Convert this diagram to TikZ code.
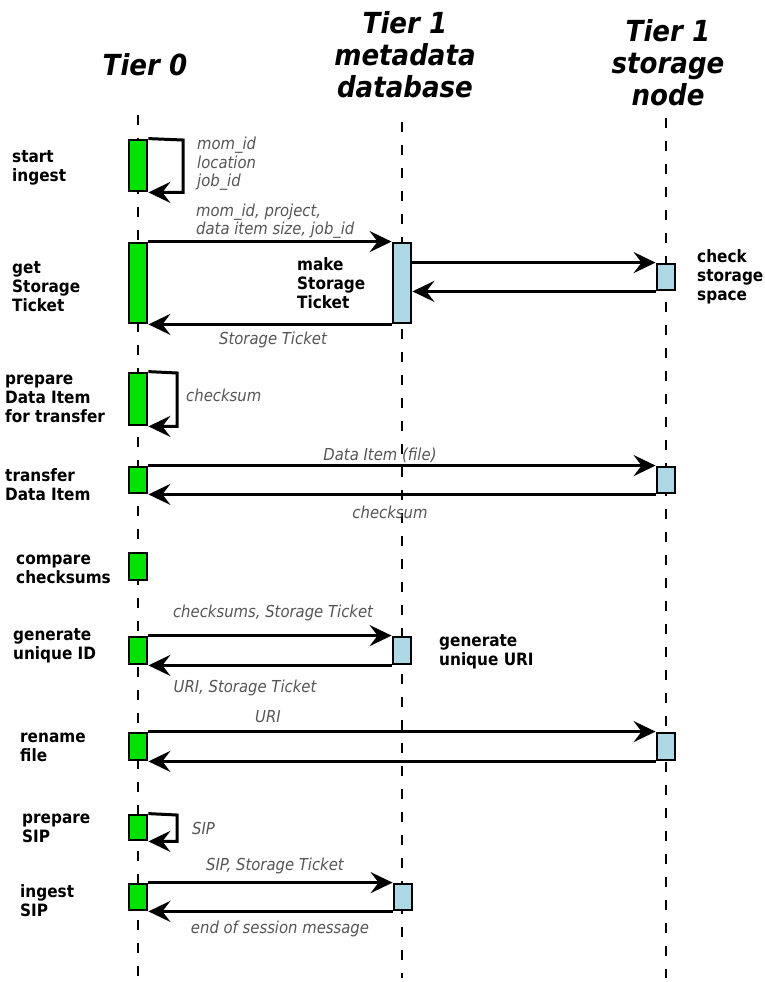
\documentclass[tikz,border=0pt]{standalone}
\usepackage{fontspec}
\setmainfont{DejaVu Sans Condensed}
\usetikzlibrary{arrows.meta}
\definecolor{actgreen}{RGB}{0,226,0}
\definecolor{actblue}{RGB}{173,216,230}
\definecolor{msggray}{RGB}{85,85,85}
\tikzset{
  head/.style={font=\fontsize{29}{32}\selectfont\bfseries\itshape, align=center},
  lifeline/.style={line width=1.4pt, dash pattern=on 10pt off 13pt},
  actzero/.style={draw, line width=2.8pt, fill=actgreen, minimum width=18pt, inner sep=0pt},
  actone/.style={draw, line width=2.8pt, fill=actblue, minimum width=18pt, inner sep=0pt},
  msg/.style={line width=3pt, line join=miter, -{Stealth[length=22pt,width=21pt,inset=8pt]}},
  steplabel/.style={font=\fontsize{17}{19}\selectfont\bfseries, align=left, anchor=west, inner sep=0pt},
  msglabel/.style={font=\fontsize{16.5}{18.5}\selectfont\itshape, text=msggray, align=left, inner sep=0pt},
}
\begin{document}
\begin{tikzpicture}[x=1pt,y=-1pt]
\useasboundingbox (0,0) rectangle (765,982);
% headers
\node[head] (h0) at (145,65) {Tier 0};
\node[head] (h1) at (405,55) {Tier 1\\metadata\\database};
\node[head] (h2) at (668,63) {Tier 1\\storage\\node};
% lifelines
\coordinate (l0t) at (138,115); \coordinate (l0b) at (138,978);
\coordinate (l1t) at (402,122); \coordinate (l1b) at (402,978);
\coordinate (l2t) at (666,118); \coordinate (l2b) at (666,978);
\draw[lifeline] (l0t) -- (l0b);
\draw[lifeline] (l1t) -- (l1b);
\draw[lifeline] (l2t) -- (l2b);

% 1 start ingest
\node[actzero, minimum height=51pt] (a1) at (138,165.5) {};
\coordinate (c1) at (183,140);
\draw[msg] (a1.north east) -- (c1) |- (a1.south east);
\node[msglabel, anchor=west] (t1) at (197,164) {mom\_id\\location\\job\_id};
\node[steplabel] (s1) at (12,168) {start\\ingest};

% 2 get storage ticket
\node[actzero, minimum height=80pt] (a2) at (138,283) {};
\node[actone, minimum height=80pt] (m2) at (402,283) {};
\node[actone, minimum height=26pt] (n2) at (666,277) {};
\draw[msg] (a2.north east) -- (m2.north west);
\draw[msg] (m2.east |- n2.north) -- (n2.north west);
\draw[msg] (n2.south west) -- (m2.east |- n2.south);
\draw[msg] (m2.south west) -- (a2.south east);
\node[msglabel, anchor=west] (t2) at (196,221) {mom\_id, project,\\data item size, job\_id};
\node[msglabel] (t2b) at (273,340) {Storage Ticket};
\node[steplabel] (s2) at (12,287) {get\\Storage\\Ticket};
\node[steplabel] (s2b) at (297,283) {make\\Storage\\Ticket};
\node[steplabel] (s2c) at (697,277) {check\\storage\\space};

% 3 prepare data item
\node[actzero, minimum height=52pt] (a3) at (138,399) {};
\coordinate (c3) at (177,373);
\draw[msg] (a3.north east) -- (c3) |- (a3.south east);
\node[msglabel, anchor=west] (t3) at (186,395) {checksum};
\node[steplabel] (s3) at (5,399) {prepare\\Data Item\\for transfer};

% 4 transfer data item
\node[actzero, minimum height=26pt] (a4) at (138,480) {};
\node[actone, minimum height=26pt] (n4) at (666,480) {};
\draw[msg] (a4.north east) -- (n4.north west);
\draw[msg] (n4.south west) -- (a4.south east);
\node[msglabel] (t4) at (380,455) {Data Item (file)};
\node[msglabel] (t4b) at (390,512) {checksum};
\node[steplabel] (s4) at (5,485) {transfer\\Data Item};

% 5 compare checksums
\node[actzero, minimum height=27pt] (a5) at (138,566.5) {};
\node[steplabel] (s5) at (16,569) {compare\\checksums};

% 6 generate unique ID
\node[actzero, minimum height=27pt] (a6) at (138,650.5) {};
\node[actone, minimum height=27pt] (m6) at (402,650.5) {};
\draw[msg] (a6.north east) -- (m6.north west);
\draw[msg] (m6.south west) -- (a6.south east);
\node[msglabel] (t6) at (273,613) {checksums, Storage Ticket};
\node[msglabel] (t6b) at (245,688) {URI, Storage Ticket};
\node[steplabel] (s6) at (13,646) {generate\\unique ID};
\node[steplabel] (s6b) at (439,652) {generate\\unique URI};

% 7 rename file
\node[actzero, minimum height=27pt] (a7) at (138,746.5) {};
\node[actone, minimum height=27pt] (n7) at (666,746.5) {};
\draw[msg] (a7.north east) -- (n7.north west);
\draw[msg] (n7.south west) -- (a7.south east);
\node[msglabel] (t7) at (268,717) {URI};
\node[steplabel] (s7) at (20,747) {rename\\file};

% 8 prepare SIP
\node[actzero, minimum height=25pt] (a8) at (138,827.5) {};
\coordinate (c8) at (177,815);
\draw[msg] (a8.north east) -- (c8) |- (a8.south east);
\node[msglabel, anchor=west] (t8) at (192,828) {SIP};
\node[steplabel] (s8) at (22,828) {prepare\\SIP};

% 9 ingest SIP
\node[actzero, minimum height=26pt] (a9) at (138,897) {};
\node[actone, minimum height=26pt] (m9) at (403,897) {};
\draw[msg] (a9.north east) -- (m9.north west);
\draw[msg] (m9.south west) -- (a9.south east);
\node[msglabel] (t9) at (275,866) {SIP, Storage Ticket};
\node[msglabel] (t9b) at (280,929) {end of session message};
\node[steplabel] (s9) at (20,901) {ingest\\SIP};
\end{tikzpicture}
\end{document}
